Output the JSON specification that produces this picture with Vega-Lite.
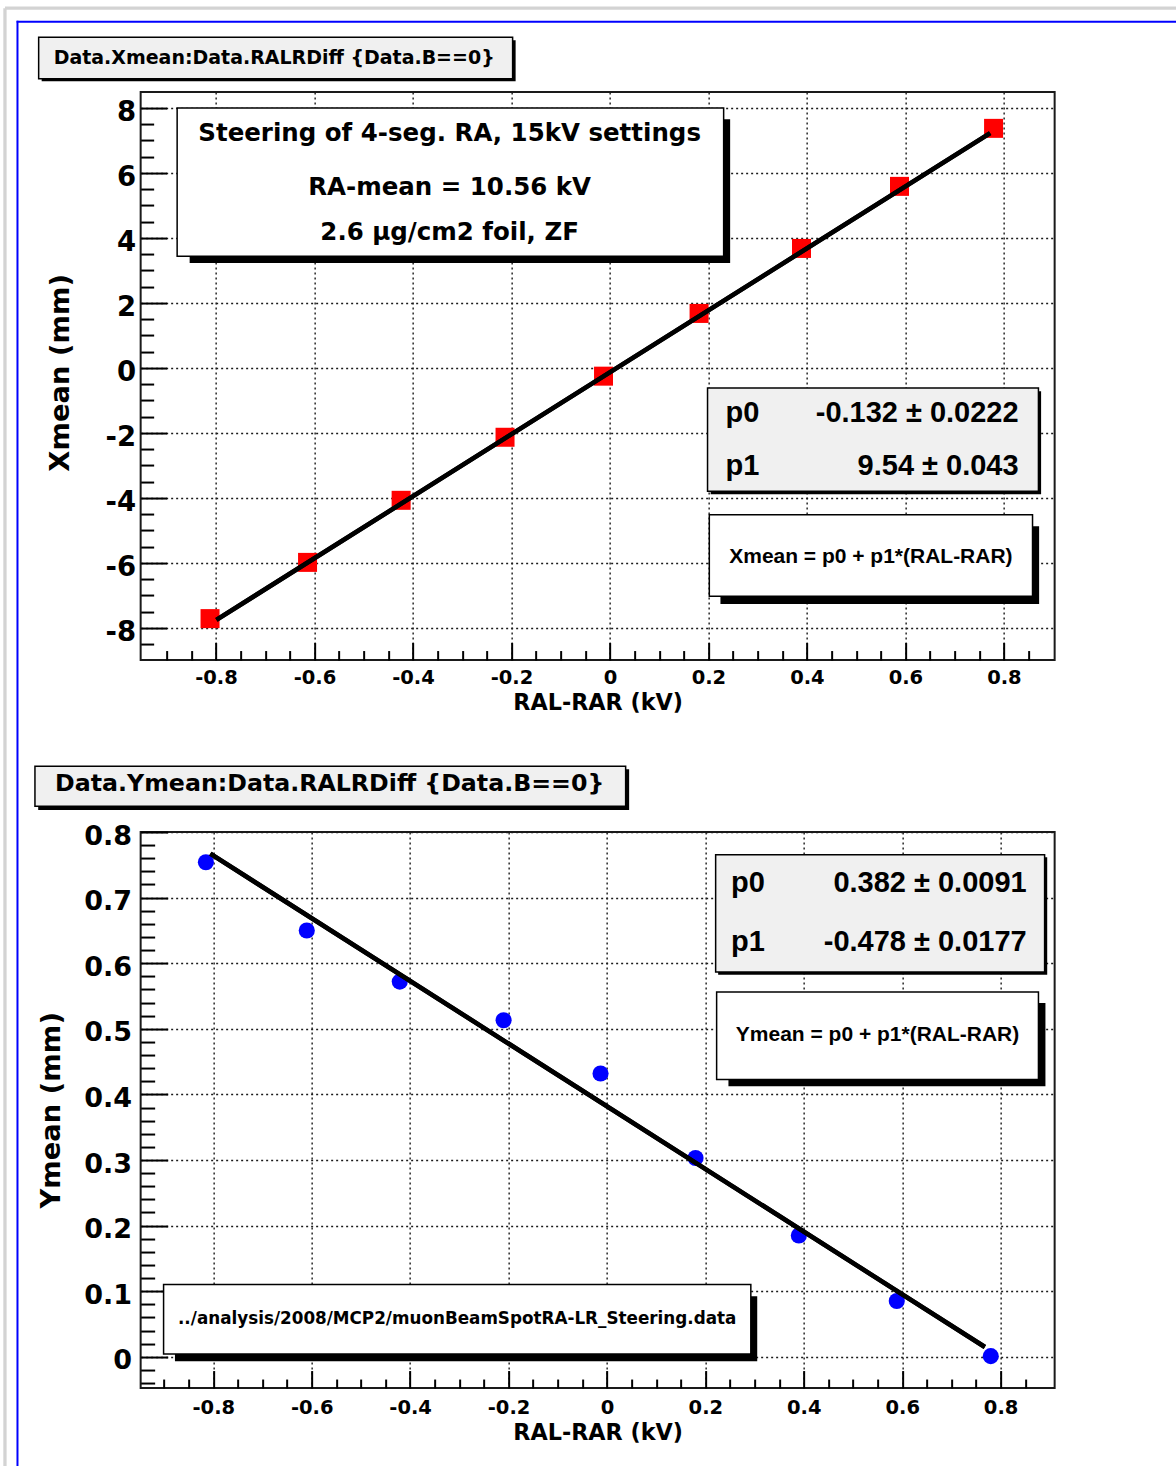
{
  "$schema": "https://vega.github.io/schema/vega-lite/v6.json",
  "background": "#ffffff",
  "padding": {"left": 1.65, "top": 5.05, "right": 0, "bottom": 0},
  "bounds": "flush",
  "spacing": 172,
  "resolve": {"scale": {"x": "independent", "y": "independent"}},
  "config": {
    "view": {"stroke": "#1a1a1a", "strokeWidth": 2},
    "axis": {
      "domain": false,
      "labelFont": "DejaVu Sans", "labelFontWeight": "bold", "labelColor": "#000000",
      "titleFont": "DejaVu Sans", "titleFontWeight": "bold", "titleColor": "#000000",
      "tickColor": "#000000", "tickWidth": 2,
      "gridColor": "#1a1a1a", "gridDash": [2, 3], "gridWidth": 1.4, "gridOpacity": 1,
      "labelFlush": false, "labelOverlap": false
    },
    "text": {"font": "DejaVu Sans", "fontWeight": "bold", "fill": "#000000"}
  },
  "datasets": {
    "xmean": [
      {"RALRDiff": -0.812, "Xmean": -7.71},
      {"RALRDiff": -0.614, "Xmean": -5.98},
      {"RALRDiff": -0.424, "Xmean": -4.07},
      {"RALRDiff": -0.213, "Xmean": -2.13},
      {"RALRDiff": -0.013, "Xmean": -0.25},
      {"RALRDiff": 0.181, "Xmean": 1.68},
      {"RALRDiff": 0.389, "Xmean": 3.68},
      {"RALRDiff": 0.588, "Xmean": 5.59},
      {"RALRDiff": 0.779, "Xmean": 7.375}
    ],
    "xfit": [
      {"RALRDiff": -0.799, "Xmean": -7.75},
      {"RALRDiff": 0.772, "Xmean": 7.23}
    ],
    "ymean": [
      {"RALRDiff": -0.815, "Ymean": 0.754},
      {"RALRDiff": -0.61, "Ymean": 0.65},
      {"RALRDiff": -0.421, "Ymean": 0.572},
      {"RALRDiff": -0.21, "Ymean": 0.513},
      {"RALRDiff": -0.013, "Ymean": 0.432},
      {"RALRDiff": 0.18, "Ymean": 0.303},
      {"RALRDiff": 0.39, "Ymean": 0.185},
      {"RALRDiff": 0.589, "Ymean": 0.085},
      {"RALRDiff": 0.78, "Ymean": 0.001}
    ],
    "yfit": [
      {"RALRDiff": -0.806, "Ymean": 0.767},
      {"RALRDiff": 0.768, "Ymean": 0.015}
    ]
  },
  "vconcat": [
    {
      "width": 914,
      "height": 568,
      "resolve": {"axis": {"x": "independent", "y": "independent"}},
      "layer": [
        {
          "data": {"values": [{}]},
          "mark": {"type": "rule", "color": "#d3d3d3", "strokeWidth": 3.3},
          "encoding": {
            "x": {"datum": -1.2284, "axis": null},
            "y": {"datum": 11.068, "axis": null},
            "y2": {"datum": -33.828}
          }
        },
        {
          "data": {"values": [{}]},
          "mark": {"type": "rule", "color": "#d3d3d3", "strokeWidth": 3.3},
          "encoding": {
            "x": {"datum": -1.2284, "axis": null},
            "x2": {"datum": 1.1527},
            "y": {"datum": 11.0769, "axis": null}
          }
        },
        {
          "data": {"values": [{}]},
          "mark": {"type": "rule", "color": "#0000ff", "strokeWidth": 2},
          "encoding": {
            "x": {"datum": -1.203, "axis": null},
            "y": {"datum": 10.683, "axis": null},
            "y2": {"datum": -33.828}
          }
        },
        {
          "data": {"values": [{}]},
          "mark": {"type": "rule", "color": "#0000ff", "strokeWidth": 2},
          "encoding": {
            "x": {"datum": -1.2047, "axis": null},
            "x2": {"datum": 1.1527},
            "y": {"datum": 10.6585, "axis": null}
          }
        },
        {
          "data": {"name": "xmean"},
          "mark": {"type": "square", "size": 361, "color": "#ff0000", "opacity": 1},
          "encoding": {
            "x": {
              "field": "RALRDiff", "type": "quantitative",
              "scale": {"domain": [-0.9529, 0.903], "nice": false, "zero": false},
              "axis": {
                "orient": "bottom", "values": [-0.8, -0.6, -0.4, -0.2, 0, 0.2, 0.4, 0.6, 0.8],
                "ticks": false, "grid": true, "labelFontSize": 19.5, "labelPadding": 8,
                "labelExpr": "datum.value < 0 ? '-' + format(-datum.value, '~g') : format(datum.value, '~g')",
                "title": "RAL-RAR (kV)", "titleFontSize": 22.3, "titleBaseline": "alphabetic", "titleY": 49.6
              }
            },
            "y": {
              "field": "Xmean", "type": "quantitative",
              "scale": {"domain": [-8.985, 8.492], "nice": false, "zero": false},
              "axis": {
                "orient": "left", "values": [-8, -6, -4, -2, 0, 2, 4, 6, 8],
                "ticks": false, "grid": true, "labelFontSize": 27.5, "labelPadding": 5, "labelOffset": 4,
                "labelExpr": "datum.value < 0 ? '-' + format(-datum.value, '~g') : format(datum.value, '~g')",
                "title": "Xmean (mm)", "titleFontSize": 27.4, "titleBaseline": "alphabetic", "titleX": -72, "titleY": 280.3
              }
            }
          }
        },
        {
          "data": {"name": "xfit"},
          "mark": {"type": "line", "color": "#000000", "strokeWidth": 4.5},
          "encoding": {
            "x": {
              "field": "RALRDiff", "type": "quantitative",
              "axis": {"orient": "bottom", "values": [-0.8, -0.6, -0.4, -0.2, 0, 0.2, 0.4, 0.6, 0.8], "labels": false, "grid": false, "title": null, "tickSize": -17.5}
            },
            "y": {
              "field": "Xmean", "type": "quantitative",
              "axis": {"orient": "left", "values": [-8, -6, -4, -2, 0, 2, 4, 6, 8], "labels": false, "grid": false, "title": null, "tickSize": -26}
            }
          }
        },
        {
          "data": {"name": "xfit"},
          "mark": {"type": "line", "color": "#000000", "strokeWidth": 4.5},
          "encoding": {
            "x": {
              "field": "RALRDiff", "type": "quantitative",
              "axis": {"orient": "bottom", "values": [-0.9, -0.85, -0.75, -0.7, -0.65, -0.55, -0.5, -0.45, -0.35, -0.3, -0.25, -0.15, -0.1, -0.05, 0.05, 0.1, 0.15, 0.25, 0.3, 0.35, 0.45, 0.5, 0.55, 0.65, 0.7, 0.75, 0.85], "labels": false, "grid": false, "title": null, "tickSize": -9.5}
            },
            "y": {
              "field": "Xmean", "type": "quantitative",
              "axis": {"orient": "left", "values": [-8.5, -7.5, -7, -6.5, -5.5, -5, -4.5, -3.5, -3, -2.5, -1.5, -1, -0.5, 0.5, 1, 1.5, 2.5, 3, 3.5, 4.5, 5, 5.5, 6.5, 7, 7.5], "labels": false, "grid": false, "title": null, "tickSize": -13}
            }
          }
        },
        {
          "data": {"values": [{}]},
          "mark": {"type": "rect", "color": "#000000"},
          "encoding": {
            "x": {"datum": -1.1539, "axis": null}, "x2": {"datum": -0.1915},
            "y": {"datum": 10.083, "axis": null}, "y2": {"datum": 8.822}
          }
        },
        {
          "data": {"values": [{}]},
          "mark": {"type": "rect", "fill": "#f0f0f0", "stroke": "#000000", "strokeWidth": 1.5},
          "encoding": {
            "x": {"datum": -1.16, "axis": null}, "x2": {"datum": -0.1976},
            "y": {"datum": 10.175, "axis": null}, "y2": {"datum": 8.905}
          }
        },
        {
          "data": {"values": [{}]},
          "mark": {"type": "text", "text": "Data.Xmean:Data.RALRDiff {Data.B==0}", "align": "center", "baseline": "alphabetic", "fontSize": 19},
          "encoding": {"x": {"datum": -0.6818, "axis": null}, "y": {"datum": 9.354, "axis": null}}
        },
        {
          "data": {"values": [{}]},
          "mark": {"type": "rect", "color": "#000000"},
          "encoding": {
            "x": {"datum": -0.8534, "axis": null}, "x2": {"datum": 0.2441},
            "y": {"datum": 7.652, "axis": null}, "y2": {"datum": 3.231}
          }
        },
        {
          "data": {"values": [{}]},
          "mark": {"type": "rect", "fill": "#ffffff", "stroke": "#000000", "strokeWidth": 1.5},
          "encoding": {
            "x": {"datum": -0.8788, "axis": null}, "x2": {"datum": 0.2309},
            "y": {"datum": 8.0, "axis": null}, "y2": {"datum": 3.437}
          }
        },
        {
          "data": {"values": [{}]},
          "mark": {"type": "text", "text": "Steering of 4-seg. RA, 15kV settings", "align": "center", "baseline": "alphabetic", "fontSize": 24.5},
          "encoding": {"x": {"datum": -0.3255, "axis": null}, "y": {"datum": 6.975, "axis": null}}
        },
        {
          "data": {"values": [{}]},
          "mark": {"type": "text", "text": "RA-mean = 10.56 kV", "align": "center", "baseline": "alphabetic", "fontSize": 24.5},
          "encoding": {"x": {"datum": -0.3255, "axis": null}, "y": {"datum": 5.335, "axis": null}}
        },
        {
          "data": {"values": [{}]},
          "mark": {"type": "text", "text": "2.6 μg/cm2 foil, ZF", "align": "center", "baseline": "alphabetic", "fontSize": 24.5},
          "encoding": {"x": {"datum": -0.3255, "axis": null}, "y": {"datum": 3.951, "axis": null}}
        },
        {
          "data": {"values": [{}]},
          "mark": {"type": "rect", "color": "#000000"},
          "encoding": {
            "x": {"datum": 0.2045, "axis": null}, "x2": {"datum": 0.8755},
            "y": {"datum": -0.717, "axis": null}, "y2": {"datum": -3.886}
          }
        },
        {
          "data": {"values": [{}]},
          "mark": {"type": "rect", "fill": "#f0f0f0", "stroke": "#000000", "strokeWidth": 1.5},
          "encoding": {
            "x": {"datum": 0.1982, "axis": null}, "x2": {"datum": 0.8701},
            "y": {"datum": -0.6154, "axis": null}, "y2": {"datum": -3.794}
          }
        },
        {
          "data": {"values": [{}]},
          "mark": {"type": "text", "text": "p0", "align": "left", "baseline": "alphabetic", "font": "Liberation Sans", "fontSize": 29},
          "encoding": {"x": {"datum": 0.2349, "axis": null}, "y": {"datum": -1.6615, "axis": null}}
        },
        {
          "data": {"values": [{}]},
          "mark": {"type": "text", "text": "p1", "align": "left", "baseline": "alphabetic", "font": "Liberation Sans", "fontSize": 29},
          "encoding": {"x": {"datum": 0.2349, "axis": null}, "y": {"datum": -3.28, "axis": null}}
        },
        {
          "data": {"values": [{}]},
          "mark": {"type": "text", "text": "-0.132 ± 0.0222", "align": "right", "baseline": "alphabetic", "font": "Liberation Sans", "fontSize": 29},
          "encoding": {"x": {"datum": 0.8298, "axis": null}, "y": {"datum": -1.6615, "axis": null}}
        },
        {
          "data": {"values": [{}]},
          "mark": {"type": "text", "text": "9.54 ± 0.043", "align": "right", "baseline": "alphabetic", "font": "Liberation Sans", "fontSize": 29},
          "encoding": {"x": {"datum": 0.8298, "axis": null}, "y": {"datum": -3.28, "axis": null}}
        },
        {
          "data": {"values": [{}]},
          "mark": {"type": "rect", "color": "#000000"},
          "encoding": {
            "x": {"datum": 0.2244, "axis": null}, "x2": {"datum": 0.8715},
            "y": {"datum": -4.871, "axis": null}, "y2": {"datum": -7.262}
          }
        },
        {
          "data": {"values": [{}]},
          "mark": {"type": "rect", "fill": "#ffffff", "stroke": "#000000", "strokeWidth": 1.5},
          "encoding": {
            "x": {"datum": 0.2018, "axis": null}, "x2": {"datum": 0.8581},
            "y": {"datum": -4.511, "axis": null}, "y2": {"datum": -7.025}
          }
        },
        {
          "data": {"values": [{}]},
          "mark": {"type": "text", "text": "Xmean = p0 + p1*(RAL-RAR)", "align": "center", "baseline": "alphabetic", "font": "Liberation Sans", "fontSize": 21},
          "encoding": {"x": {"datum": 0.5299, "axis": null}, "y": {"datum": -6.0, "axis": null}}
        }
      ]
    },
    {
      "width": 914,
      "height": 556,
      "resolve": {"axis": {"x": "independent", "y": "independent"}},
      "layer": [
        {
          "data": {"name": "ymean"},
          "mark": {"type": "circle", "size": 260, "color": "#0000ff", "opacity": 1},
          "encoding": {
            "x": {
              "field": "RALRDiff", "type": "quantitative",
              "scale": {"domain": [-0.9476, 0.9098], "nice": false, "zero": false},
              "axis": {
                "orient": "bottom", "values": [-0.8, -0.6, -0.4, -0.2, 0, 0.2, 0.4, 0.6, 0.8],
                "ticks": false, "grid": true, "labelFontSize": 19.5, "labelPadding": 10,
                "labelExpr": "datum.value < 0 ? '-' + format(-datum.value, '~g') : format(datum.value, '~g')",
                "title": "RAL-RAR (kV)", "titleFontSize": 22.3, "titleBaseline": "alphabetic", "titleY": 51.6
              }
            },
            "y": {
              "field": "Ymean", "type": "quantitative",
              "scale": {"domain": [-0.0476, 0.8], "nice": false, "zero": false},
              "axis": {
                "orient": "left", "values": [0, 0.1, 0.2, 0.3, 0.4, 0.5, 0.6, 0.7, 0.8],
                "ticks": false, "grid": true, "labelFontSize": 27, "labelPadding": 9, "labelOffset": 4,
                "labelExpr": "datum.value < 0 ? '-' + format(-datum.value, '~g') : format(datum.value, '~g')",
                "title": "Ymean (mm)", "titleFontSize": 27.4, "titleBaseline": "alphabetic", "titleX": -81.5, "titleY": 277.8
              }
            }
          }
        },
        {
          "data": {"name": "yfit"},
          "mark": {"type": "line", "color": "#000000", "strokeWidth": 4.5},
          "encoding": {
            "x": {
              "field": "RALRDiff", "type": "quantitative",
              "axis": {"orient": "bottom", "values": [-0.8, -0.6, -0.4, -0.2, 0, 0.2, 0.4, 0.6, 0.8], "labels": false, "grid": false, "title": null, "tickSize": -17.5}
            },
            "y": {
              "field": "Ymean", "type": "quantitative",
              "axis": {"orient": "left", "values": [0, 0.1, 0.2, 0.3, 0.4, 0.5, 0.6, 0.7, 0.8], "labels": false, "grid": false, "title": null, "tickSize": -27}
            }
          }
        },
        {
          "data": {"name": "yfit"},
          "mark": {"type": "line", "color": "#000000", "strokeWidth": 4.5},
          "encoding": {
            "x": {
              "field": "RALRDiff", "type": "quantitative",
              "axis": {"orient": "bottom", "values": [-0.9, -0.85, -0.75, -0.7, -0.65, -0.55, -0.5, -0.45, -0.35, -0.3, -0.25, -0.15, -0.1, -0.05, 0.05, 0.1, 0.15, 0.25, 0.3, 0.35, 0.45, 0.5, 0.55, 0.65, 0.7, 0.75, 0.85], "labels": false, "grid": false, "title": null, "tickSize": -9}
            },
            "y": {
              "field": "Ymean", "type": "quantitative",
              "axis": {"orient": "left", "values": [-0.04, -0.02, 0.02, 0.04, 0.06, 0.08, 0.12, 0.14, 0.16, 0.18, 0.22, 0.24, 0.26, 0.28, 0.32, 0.34, 0.36, 0.38, 0.42, 0.44, 0.46, 0.48, 0.52, 0.54, 0.56, 0.58, 0.62, 0.64, 0.66, 0.68, 0.72, 0.74, 0.76, 0.78], "labels": false, "grid": false, "title": null, "tickSize": -14}
            }
          }
        },
        {
          "data": {"values": [{}]},
          "mark": {"type": "rect", "color": "#000000"},
          "encoding": {
            "x": {"datum": -1.1558, "axis": null}, "x2": {"datum": 0.0451},
            "y": {"datum": 0.8956, "axis": null}, "y2": {"datum": 0.8338}
          }
        },
        {
          "data": {"values": [{}]},
          "mark": {"type": "rect", "fill": "#f0f0f0", "stroke": "#000000", "strokeWidth": 1.5},
          "encoding": {
            "x": {"datum": -1.1624, "axis": null}, "x2": {"datum": 0.038},
            "y": {"datum": 0.9002, "axis": null}, "y2": {"datum": 0.8392}
          }
        },
        {
          "data": {"values": [{}]},
          "mark": {"type": "text", "text": "Data.Ymean:Data.RALRDiff {Data.B==0}", "align": "center", "baseline": "alphabetic", "fontSize": 23.7},
          "encoding": {"x": {"datum": -0.5635, "axis": null}, "y": {"datum": 0.8621, "axis": null}}
        },
        {
          "data": {"values": [{}]},
          "mark": {"type": "rect", "color": "#000000"},
          "encoding": {
            "x": {"datum": 0.226, "axis": null}, "x2": {"datum": 0.8947},
            "y": {"datum": 0.7614, "axis": null}, "y2": {"datum": 0.5826}
          }
        },
        {
          "data": {"values": [{}]},
          "mark": {"type": "rect", "fill": "#f0f0f0", "stroke": "#000000", "strokeWidth": 1.5},
          "encoding": {
            "x": {"datum": 0.2209, "axis": null}, "x2": {"datum": 0.8894},
            "y": {"datum": 0.7655, "axis": null}, "y2": {"datum": 0.5866}
          }
        },
        {
          "data": {"values": [{}]},
          "mark": {"type": "text", "text": "p0", "align": "left", "baseline": "alphabetic", "font": "Liberation Sans", "fontSize": 29},
          "encoding": {"x": {"datum": 0.2522, "axis": null}, "y": {"datum": 0.7085, "axis": null}}
        },
        {
          "data": {"values": [{}]},
          "mark": {"type": "text", "text": "p1", "align": "left", "baseline": "alphabetic", "font": "Liberation Sans", "fontSize": 29},
          "encoding": {"x": {"datum": 0.2522, "axis": null}, "y": {"datum": 0.6192, "axis": null}}
        },
        {
          "data": {"values": [{}]},
          "mark": {"type": "text", "text": "0.382 ± 0.0091", "align": "right", "baseline": "alphabetic", "font": "Liberation Sans", "fontSize": 29},
          "encoding": {"x": {"datum": 0.8529, "axis": null}, "y": {"datum": 0.7085, "axis": null}}
        },
        {
          "data": {"values": [{}]},
          "mark": {"type": "text", "text": "-0.478 ± 0.0177", "align": "right", "baseline": "alphabetic", "font": "Liberation Sans", "fontSize": 29},
          "encoding": {"x": {"datum": 0.8529, "axis": null}, "y": {"datum": 0.6192, "axis": null}}
        },
        {
          "data": {"values": [{}]},
          "mark": {"type": "rect", "color": "#000000"},
          "encoding": {
            "x": {"datum": 0.2469, "axis": null}, "x2": {"datum": 0.8911},
            "y": {"datum": 0.5393, "axis": null}, "y2": {"datum": 0.4123}
          }
        },
        {
          "data": {"values": [{}]},
          "mark": {"type": "rect", "fill": "#ffffff", "stroke": "#000000", "strokeWidth": 1.5},
          "encoding": {
            "x": {"datum": 0.2229, "axis": null}, "x2": {"datum": 0.8769},
            "y": {"datum": 0.5561, "axis": null}, "y2": {"datum": 0.4226}
          }
        },
        {
          "data": {"values": [{}]},
          "mark": {"type": "text", "text": "Ymean = p0 + p1*(RAL-RAR)", "align": "center", "baseline": "alphabetic", "font": "Liberation Sans", "fontSize": 21},
          "encoding": {"x": {"datum": 0.5499, "axis": null}, "y": {"datum": 0.4809, "axis": null}}
        },
        {
          "data": {"values": [{}]},
          "mark": {"type": "rect", "color": "#000000"},
          "encoding": {
            "x": {"datum": -0.8779, "axis": null}, "x2": {"datum": 0.3054},
            "y": {"datum": 0.0922, "axis": null}, "y2": {"datum": -0.0069}
          }
        },
        {
          "data": {"values": [{}]},
          "mark": {"type": "rect", "fill": "#ffffff", "stroke": "#000000", "strokeWidth": 1.5},
          "encoding": {
            "x": {"datum": -0.901, "axis": null}, "x2": {"datum": 0.2924},
            "y": {"datum": 0.1101, "axis": null}, "y2": {"datum": 0.0043}
          }
        },
        {
          "data": {"values": [{}]},
          "mark": {"type": "text", "text": "../analysis/2008/MCP2/muonBeamSpotRA-LR_Steering.data", "align": "center", "baseline": "alphabetic", "fontSize": 16.8},
          "encoding": {"x": {"datum": -0.3044, "axis": null}, "y": {"datum": 0.05, "axis": null}}
        }
      ]
    }
  ]
}
